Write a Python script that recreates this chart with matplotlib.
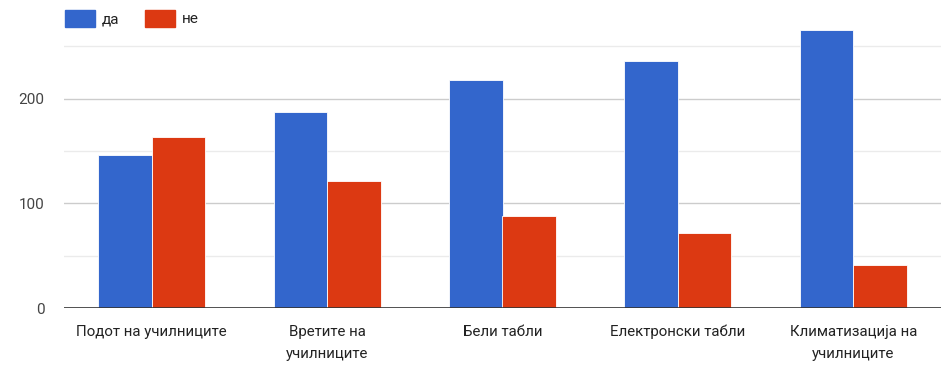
import matplotlib.pyplot as plt
import numpy as np
from matplotlib.patches import Patch

plt.rcParams['font.family'] = ['Roboto', 'DejaVu Sans']

# категории и вредности
kategorii = ['Подот на училниците', 'Вретите на\nучилниците', 'Бели табли',
             'Електронски табли', 'Климатизација на\nучилниците']
da = [146, 187, 218, 236, 266]
ne = [163, 121, 88, 72, 41]

sina = '#3366cc'
crvena = '#dc3912'

fig = plt.figure(figsize=(9.41, 3.69), dpi=100)
ax = fig.add_axes([64 / 941, 1 - 308 / 369, 1 - 64 / 941, 293 / 369])

x = np.arange(len(kategorii))
w = 0.305
ax.bar(x - w / 2, da, w, color=sina, edgecolor='white', linewidth=0.6, zorder=3)
ax.bar(x + w / 2, ne, w, color=crvena, edgecolor='white', linewidth=0.6, zorder=3)

ax.set_xlim(-0.5, 4.5)
ax.set_ylim(0, 280)

# мрежа
for v in [50, 150, 250]:
    ax.axhline(v, color='#ebebeb', linewidth=1, zorder=1)
for v in [100, 200]:
    ax.axhline(v, color='#cccccc', linewidth=1, zorder=1)
ax.axhline(0, color='#333333', linewidth=1.2, zorder=4)

ax.set_yticks([0, 100, 200])
ax.set_xticks(x)
ax.set_xticklabels(kategorii, linespacing=1.75, va='top')
ax.tick_params(axis='y', length=0, pad=14, labelsize=11, labelcolor='#444444')
ax.tick_params(axis='x', length=0, pad=12, labelsize=10.8, labelcolor='#222222')
for s in ax.spines.values():
    s.set_visible(False)

fig.legend(handles=[Patch(color=sina, label='да'), Patch(color=crvena, label='не')],
           loc='upper left', bbox_to_anchor=(65 / 941, 1 - 10 / 369), ncol=2, frameon=False,
           borderpad=0, borderaxespad=0,
           fontsize=11, handlelength=1.95, handleheight=1.3, columnspacing=1.7,
           handletextpad=0.45, labelcolor='#222222')

fig.savefig('out.png', dpi=100)
